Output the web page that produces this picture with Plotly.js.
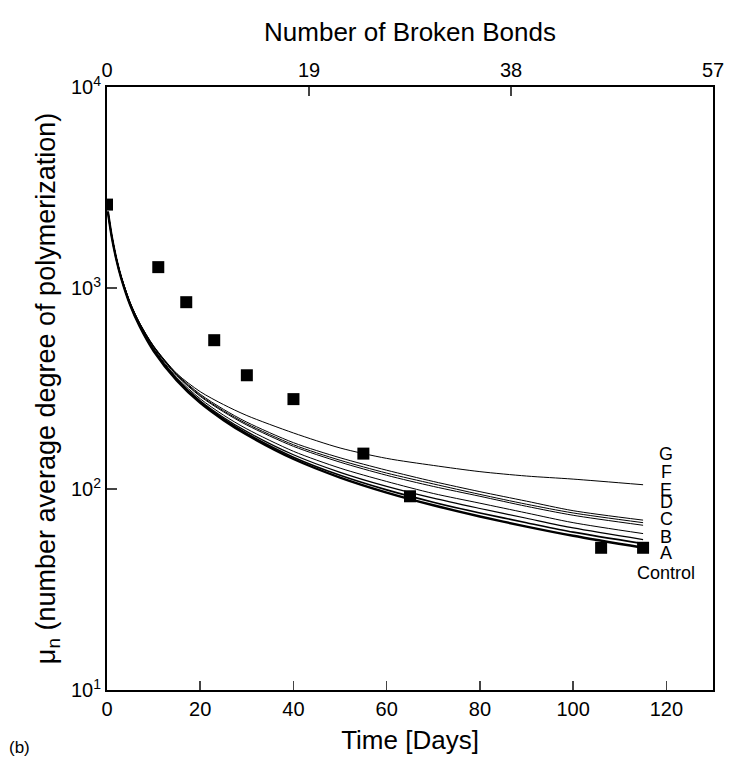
<!DOCTYPE html>
<html>
<head>
<meta charset="utf-8">
<script src="https://cdn.plot.ly/plotly-3.0.1.min.js"></script>
<style>html,body{margin:0;padding:0;background:#fff;}#chart{width:733px;height:762px;}</style>
</head>
<body>
<div id="chart"></div>
<script>
// Measured points (Time [Days], mu_n)
const dataDays = [0, 11, 17, 23, 30, 40, 55, 65, 106, 115];
const dataMu   = [2600, 1270, 850, 550, 368, 280, 150, 92, 51, 51];

// Model curves
const curveDays = [0.2, 1, 2, 3, 5, 7, 10, 15, 20, 25, 30, 40, 50, 60, 70, 80, 90, 100, 115];
const curveControl = [2390, 1810, 1390, 1130, 820, 645, 486, 346, 268, 220, 186, 141, 114, 96, 83, 73, 65, 58.5, 51];
const curveA = [2390, 1810, 1390, 1130, 822, 648, 490, 349, 271, 223, 189, 144, 117, 99, 86, 76, 68, 61, 53.5];
const curveB = [2390, 1815, 1395, 1135, 826, 652, 494, 353, 275, 227, 193, 148, 121, 103, 90, 80, 71.5, 64, 56];
const curveC = [2395, 1820, 1400, 1140, 830, 658, 500, 358, 281, 233, 199, 154, 127, 109, 95, 85, 76, 68, 60];
const curveD = [2400, 1825, 1405, 1145, 836, 664, 507, 366, 289, 242, 208, 163, 136, 117, 103, 92, 82, 74, 66];
const curveE = [2400, 1825, 1408, 1148, 838, 667, 510, 369, 292, 245, 211, 166, 139, 120, 106, 94, 84, 76, 68];
const curveF = [2400, 1830, 1410, 1150, 840, 670, 513, 372, 296, 249, 215, 170, 143, 124, 109, 97, 87, 78, 70];
const curveG = [2400, 1840, 1410, 1150, 845, 670, 515, 375, 305, 263, 232, 190, 160, 142, 131, 122, 116, 112, 105];

const curveNames = ['G', 'F', 'E', 'D', 'C', 'B', 'A', 'Control'];
const curveSets = [curveG, curveF, curveE, curveD, curveC, curveB, curveA, curveControl];
const curveWidths = [1, 1, 1, 1, 1, 1.2, 1.6, 2.4];

// Axis ticks
const timeTicks = [0, 20, 40, 60, 80, 100, 120];
const bondTicks = [0, 19, 38, 57];
const muTicks = [10, 100, 1000, 10000];
const muTickText = ['10<sup>1</sup>', '10<sup>2</sup>', '10<sup>3</sup>', '10<sup>4</sup>'];

// Right-hand labels (name, y value)
const labelNames = ['G', 'F', 'E', 'D', 'C', 'B', 'A', 'Control'];
const labelY = [149, 122, 99, 86, 71, 58, 48, 38];

const FONT = 'Liberation Sans, Arial, Helvetica, sans-serif';

const traces = curveSets.map((ys, i) => ({
  type: 'scatter', mode: 'lines', x: curveDays, y: ys, name: curveNames[i],
  line: {color: '#000', width: curveWidths[i], shape: 'spline', smoothing: 0.8},
  hoverinfo: 'skip', showlegend: false
}));
traces.push({
  type: 'scatter', mode: 'markers', x: dataDays, y: dataMu, name: 'data',
  marker: {symbol: 'square', size: 12, color: '#000'}, showlegend: false
});
traces.push({
  type: 'scatter', mode: 'markers', x: [bondTicks[0], bondTicks[bondTicks.length-1]], y: [muTicks[1], muTicks[1]],
  xaxis: 'x2', marker: {opacity: 0}, hoverinfo: 'skip', showlegend: false
});

const annotations = labelNames.map((t, i) => ({
  x: 120, y: Math.log10(labelY[i]), xref: 'x', yref: 'y', text: t, showarrow: false,
  font: {family: FONT, size: 18, color: '#000'}, xanchor: 'center', yanchor: 'middle'
}));
annotations.push({
  x: -0.165, y: -0.095, xref: 'paper', yref: 'paper', text: '(b)', showarrow: false,
  font: {family: FONT, size: 17, color: '#000'}, xanchor: 'left', yanchor: 'middle'
});

const layout = {
  width: 733, height: 762,
  margin: {l: 107, r: 20, t: 87, b: 72},
  paper_bgcolor: '#fff', plot_bgcolor: '#fff',
  font: {family: FONT, color: '#000'},
  showlegend: false,
  xaxis: {
    range: [0, 130], tickvals: timeTicks, ticks: 'inside', ticklen: 9, tickwidth: 1.5,
    showline: true, linecolor: '#000', linewidth: 2, mirror: true, showgrid: false, zeroline: false,
    tickfont: {size: 20, family: FONT},
    title: {text: 'Time [Days]', font: {size: 26, family: FONT}, standoff: 12}
  },
  xaxis2: {
    overlaying: 'x', side: 'top', range: [0, 57], tickvals: bondTicks, ticks: 'inside', ticklen: 9, tickwidth: 1.5,
    showline: true, linecolor: '#000', linewidth: 2, showgrid: false, zeroline: false,
    tickfont: {size: 20, family: FONT},
    title: {text: 'Number of Broken Bonds', font: {size: 26, family: FONT}, standoff: 10}
  },
  yaxis: {
    type: 'log', range: [1, 4], tickvals: muTicks, ticktext: muTickText, ticks: 'inside', ticklen: 10, tickwidth: 1.5,
    showline: true, linecolor: '#000', linewidth: 2, mirror: true, showgrid: false, zeroline: false,
    tickfont: {size: 20, family: FONT},
    title: {text: 'μ<sub>n</sub> (number average degree of polymerization)', font: {size: 27, family: FONT}, standoff: 8}
  },
  annotations: annotations
};

Plotly.newPlot('chart', traces, layout, {displayModeBar: false, staticPlot: true});
</script>
</body>
</html>
